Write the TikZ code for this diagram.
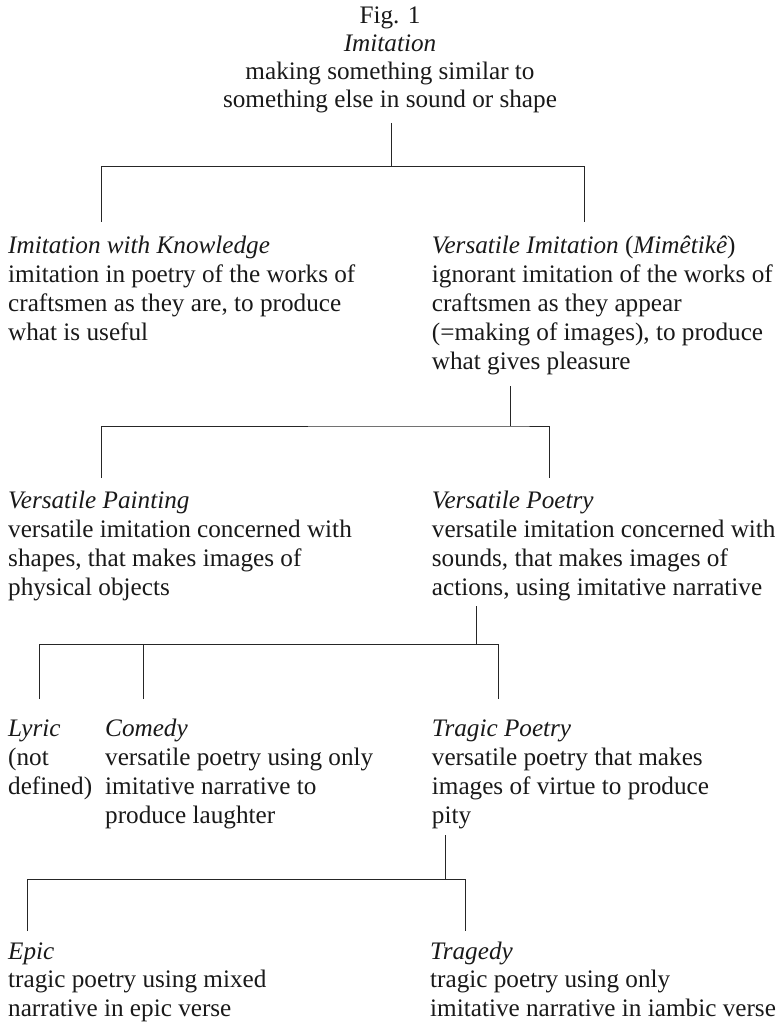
\documentclass[tikz,border=0pt]{standalone}
\usepackage{fontspec}
\setmainfont{Liberation Serif}
\begin{document}
\begin{tikzpicture}[x=1pt,y=-1pt,
  txt/.style={anchor=base west,align=left,inner sep=0pt,text=black!90,
    font=\fontsize{25.2pt}{29.2pt}\selectfont},
  bottxt/.style={txt,font=\fontsize{25.2pt}{28.6pt}\selectfont},
  toptxt/.style={anchor=base,align=center,inner sep=0pt,text=black!90,
    font=\fontsize{25.2pt}{28pt}\selectfont},
  link/.style={draw=black!85,line width=0.9pt}]
\useasboundingbox (0,0) rectangle (779,1024);
% texts (positions are the baseline of the last line)
\node[toptxt] (top) at (390,108) {Fig. 1\\\textit{Imitation}\\making something similar to\\something else in sound or shape};
\node[txt] (know) at (8,340.6) {\textit{Imitation with Knowledge}\\imitation in poetry of the works of\\craftsmen as they are, to produce\\what is useful};
\node[txt] (vers) at (431.7,369.8) {\textit{Versatile Imitation} (\textit{Mimêtikê})\\ignorant imitation of the works of\\craftsmen as they appear\\(=making of images), to produce\\what gives pleasure};
\node[txt] (paint) at (8,595.6) {\textit{Versatile Painting}\\versatile imitation concerned with\\shapes, that makes images of\\physical objects};
\node[txt] (poetry) at (431.7,595.6) {\textit{Versatile Poetry}\\versatile imitation concerned with\\sounds, that makes images of\\actions, using imitative narrative};
\node[txt] (lyric) at (8,794.4) {\textit{Lyric}\\(not\\defined)};
\node[txt] (comedy) at (105,823.6) {\textit{Comedy}\\versatile poetry using only\\imitative narrative to\\produce laughter};
\node[txt] (tragic) at (431.7,823.6) {\textit{Tragic Poetry}\\versatile poetry that makes\\images of virtue to produce\\pity};
\node[bottxt] (epic) at (8,1016.5) {\textit{Epic}\\tragic poetry using mixed\\narrative in epic verse};
\node[bottxt] (tragedy) at (430,1016.5) {\textit{Tragedy}\\tragic poetry using only\\imitative narrative in iambic verse};
% connector points
\coordinate (s1) at (391.5,123);
\coordinate (j1) at (391.5,166.7);
\coordinate (knowtop) at (101,221.7);
\coordinate (verstop) at (584.5,221.7);
\coordinate (s2) at (510,386);
\coordinate (j2) at (510,426);
\coordinate (painttop) at (101,478);
\coordinate (poetrytop) at (549.5,478);
\coordinate (s3) at (476,606);
\coordinate (j3) at (476,644.3);
\coordinate (lyrictop) at (39.3,699);
\coordinate (comedytop) at (143.3,699);
\coordinate (tragictop) at (498.3,699);
\coordinate (s4) at (445,835);
\coordinate (j4) at (445,879);
\coordinate (epictop) at (27.3,931);
\coordinate (tragedytop) at (465.7,931);
% connectors
\draw[link] (s1) -- (j1);
\draw[link] (knowtop) |- (j1) -| (verstop);
\draw[link] (s2) -- (j2);
\draw[link] (painttop) |- (j2) -| (poetrytop);
\draw[link] (s3) -- (j3);
\draw[link] (lyrictop) |- (j3) -| (tragictop);
\draw[link] (comedytop) -- (comedytop |- j3);
\draw[link] (s4) -- (j4);
\draw[link] (epictop) |- (j4) -| (tragedytop);
\end{tikzpicture}
\end{document}
